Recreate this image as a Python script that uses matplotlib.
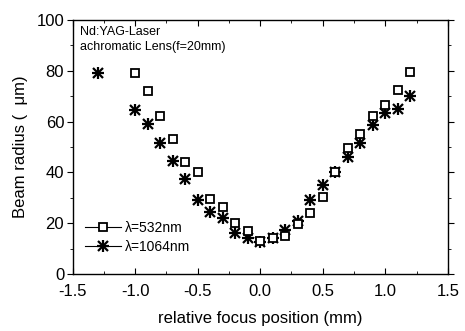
import matplotlib
matplotlib.use("Agg")
import matplotlib.pyplot as plt
from matplotlib.ticker import MultipleLocator

plt.rcParams['font.family'] = ['Liberation Sans Narrow', 'Liberation Sans', 'DejaVu Sans']

# lambda = 532 nm (open squares)
x_532 = [-1.0, -0.9, -0.8, -0.7, -0.6, -0.5, -0.4, -0.3, -0.2, -0.1, 0.0, 0.1,
         0.2, 0.3, 0.4, 0.5, 0.6, 0.7, 0.8, 0.9, 1.0, 1.1, 1.2]
r_532 = [79, 72, 62, 53, 44, 40, 29.5, 26.5, 20, 17, 13, 14,
         15, 19.5, 24, 30.5, 40, 49.5, 55, 62, 66.5, 72.5, 79.5]

# lambda = 1064 nm (asterisks)
x_1064 = [-1.3, -1.0, -0.9, -0.8, -0.7, -0.6, -0.5, -0.4, -0.3, -0.2, -0.1, 0.0,
          0.1, 0.2, 0.3, 0.4, 0.5, 0.6, 0.7, 0.8, 0.9, 1.0, 1.1, 1.2]
r_1064 = [79, 64.5, 59, 51.5, 44.5, 37.5, 29, 24.5, 22, 16, 14, 12.5,
          14, 17.5, 21, 29, 35, 40, 46, 51.5, 58.5, 63.5, 65, 70]

fig = plt.figure(figsize=(4.65, 3.31), dpi=100)
ax = fig.add_axes([0.156, 0.172, 0.807, 0.768])

# asterisk = '+' and 'x' on top of each other
ax.plot(x_1064, r_1064, ls='none', marker='+', ms=8, color='black', mew=1.6, zorder=2)
ax.plot(x_1064, r_1064, ls='none', marker='x', ms=6.5, color='black', mew=1.6, zorder=2)
ax.plot(x_532, r_532, ls='none', marker='s', ms=5.5, mfc='white', mec='black',
        mew=1.3, zorder=3)

# legend entries (line + marker)
h1, = ax.plot([], [], color='black', lw=0.8, marker='s', ms=5.5, mfc='white',
              mec='black', mew=1.3)
h2a, = ax.plot([], [], color='black', lw=0.8, marker='+', ms=8, mew=1.6)
h2b, = ax.plot([], [], color='black', lw=0, marker='x', ms=6.5, mew=1.6)
ax.legend([h1, (h2a, h2b)], ['λ=532nm', 'λ=1064nm'], loc='lower left',
          bbox_to_anchor=(0.0, 0.03), frameon=False, fontsize=10,
          handlelength=2.6, handletextpad=0.3, labelspacing=0.35)

ax.text(0.02, 0.975, 'Nd:YAG-Laser', transform=ax.transAxes, fontsize=9,
        va='top', ha='left')
ax.text(0.02, 0.915, 'achromatic Lens(f=20mm)', transform=ax.transAxes,
        fontsize=9, va='top', ha='left')

ax.set_xlim(-1.5, 1.5)
ax.set_ylim(0, 100)
ax.xaxis.set_minor_locator(MultipleLocator(0.25))
ax.yaxis.set_major_locator(MultipleLocator(20))
ax.yaxis.set_minor_locator(MultipleLocator(10))
ax.set_xticks([-1.5, -1.0, -0.5, 0.0, 0.5, 1.0, 1.5])
ax.set_xticklabels(['-1.5', '-1.0', '-0.5', '0.0', '0.5', '1.0', '1.5'])
ax.tick_params(axis='x', which='both', direction='in', top=True, labelsize=12, pad=7)
ax.tick_params(axis='y', which='both', direction='out', labelsize=12, pad=2)
ax.tick_params(axis='y', which='both', right=True)
ax.tick_params(which='major', length=4)
ax.tick_params(which='minor', length=2.5)

ax.set_xlabel('relative focus position (mm)', fontsize=12, labelpad=9)
ax.set_ylabel('Beam radius (  μm)', fontsize=12, labelpad=6)

for s in ax.spines.values():
    s.set_linewidth(1.0)

fig.savefig('out.png', dpi=100)
